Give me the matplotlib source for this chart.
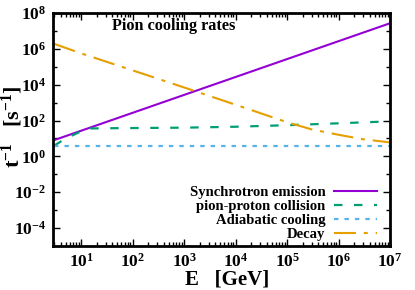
import math
import matplotlib
matplotlib.use("Agg")
import matplotlib.pyplot as plt
from matplotlib.ticker import FuncFormatter, LogLocator, NullFormatter, FixedLocator

plt.rcParams['font.family'] = ['Liberation Serif', 'DejaVu Serif']
plt.rcParams['font.weight'] = 'bold'
plt.rcParams['mathtext.fontset'] = 'custom'
plt.rcParams['mathtext.rm'] = 'Liberation Serif:bold'
plt.rcParams['mathtext.bf'] = 'Liberation Serif:bold'
plt.rcParams['mathtext.it'] = 'Liberation Serif:bold'

# Data
E_sync = [3, 1e7]
sync = [8.1, 2.7e7]

E_pp = [3, 5, 10, 15, 30, 100, 1e3, 1e4, 1e5, 1e6, 1e7]
pp = [4.0, 10.0, 25.0, 36.0, 37.0, 38.0, 40.0, 45.0, 55.0, 70.0, 90.0]

E_ad = [3, 1e7]
adiab = [4.0, 4.0]

E_dec = [3, 10, 100, 1e3, 1e4, 1e5, 3e5, 1e6, 3e6, 1e7]
decay = [1.9e6, 5.6e5, 6.3e4, 7.0e3, 7.6e2, 8.0e1, 3.2e1, 1.6e1, 9.0, 6.0]

labels = ["Synchrotron emission", "pion-proton collision", "Adiabatic cooling", "Decay"]
colors = ["#9400D3", "#009E73", "#56B4E9", "#E69F00"]
yticks = [1e-4, 1e-2, 1, 1e2, 1e4, 1e6, 1e8]

fig = plt.figure(figsize=(4.15, 2.9), dpi=100)
ax = fig.add_axes([0.128, 0.152, 0.812, 0.803])

ax.plot(E_sync, sync, color=colors[0], lw=1.5, label=labels[0])
ax.plot(E_pp, pp, color=colors[1], lw=1.6, dashes=(3.8, 5.2), label=labels[1])
ax.plot(E_ad, adiab, color=colors[2], lw=1.6, dashes=(2.0, 2.7), label=labels[2])
ax.plot(E_dec, decay, color=colors[3], lw=1.5, dashes=(10.5, 3.8, 1.9, 3.8), label=labels[3])

ax.set_xscale('log')
ax.set_yscale('log')
ax.set_xlim(2.85, 1e7)
ax.set_ylim(1e-5, 1e8)

fmt = FuncFormatter(lambda v, p: r'$\mathrm{10^{%d}}$' % round(math.log10(v)))
ax.xaxis.set_major_locator(LogLocator(base=10, numticks=20))
ax.yaxis.set_major_locator(FixedLocator(yticks))
ax.xaxis.set_major_formatter(fmt)
ax.yaxis.set_major_formatter(fmt)
ax.xaxis.set_minor_locator(LogLocator(base=10, subs=range(2, 10), numticks=20))
ax.yaxis.set_minor_locator(LogLocator(base=10, subs=[10.0], numticks=20))
ax.xaxis.set_minor_formatter(NullFormatter())
ax.yaxis.set_minor_formatter(NullFormatter())
ax.tick_params(which='both', direction='in', top=True, right=True, labelsize=12.5, width=1.0)
ax.tick_params(which='major', length=5, pad=5)
ax.tick_params(which='minor', length=3)
for s in ax.spines.values():
    s.set_linewidth(2.0)

ax.set_xlabel(r'E   [GeV]', fontsize=15, fontweight='bold')
ax.xaxis.set_label_coords(0.515, -0.102)
ax.set_ylabel(r't$^{\mathrm{-1}}$   [s$^{\mathrm{-1}}$]', fontsize=16, fontweight='bold')
ax.yaxis.label.set_va('center')
ax.yaxis.set_label_coords(-0.122, 0.513)

ax.text(0.175, 0.944, "Pion cooling rates", transform=ax.transAxes, fontsize=11.7,
        fontweight='bold', va='center', ha='left')

leg = ax.legend(loc='lower right', bbox_to_anchor=(0.962, 0.02), frameon=False, markerfirst=False,
                fontsize=10.5, handlelength=3.0, handletextpad=0.55, labelspacing=0.05,
                borderpad=0, borderaxespad=0)

fig.savefig("out.png", dpi=100)
